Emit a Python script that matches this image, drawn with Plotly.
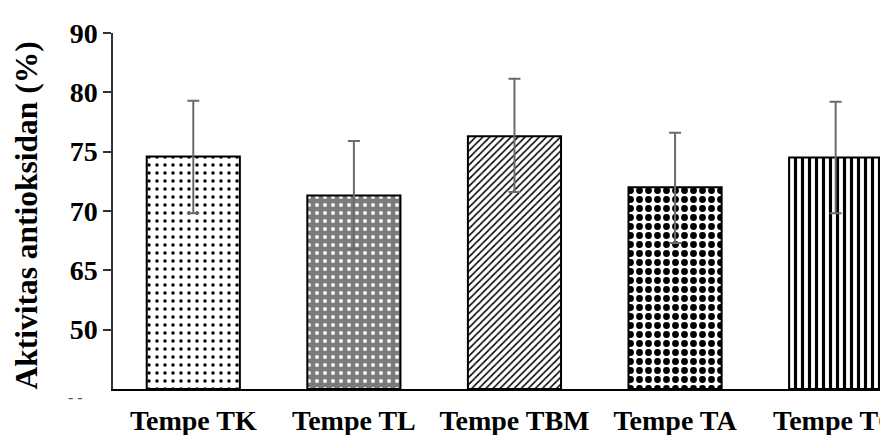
import numpy as np
import plotly.graph_objects as go

# ---- data ----
categories = ["Tempe TK", "Tempe TL", "Tempe TBM", "Tempe TA", "Tempe TC"]
activity = [74.6, 71.3, 76.3, 72.0, 74.5]          # antioxidant activity (%)
err_upper = [4.7, 4.6, 6.0, 4.6, 4.7]
err_lower = [4.8, 4.5, 4.7, 4.7, 4.7]
tick_values = [50, 65, 70, 75, 80, 90]                # labels on the (uneven) y axis
tick_labels = ["50", "65", "70", "75", "80", "90"]

# The original axis puts its labels at evenly spaced positions:
tick_pos = list(range(1, len(tick_values) + 1))


def to_axis(v):
    return np.interp(np.asarray(v, dtype=float), tick_values, tick_pos)


vals = np.asarray(activity)
ypos = to_axis(vals)
e_plus = to_axis(vals + np.asarray(err_upper)) - ypos
e_minus = ypos - to_axis(vals - np.asarray(err_lower))

patterns = [
    dict(shape=".", fgcolor="black", bgcolor="white", size=8, solidity=0.15),
    dict(shape=".", fgcolor="white", bgcolor="#7a7a7a", size=8, solidity=0.2),
    dict(shape="/", fgcolor="black", bgcolor="white", size=5, solidity=0.3),
    dict(shape=".", fgcolor="black", bgcolor="white", size=9, solidity=0.45),
    dict(shape="|", fgcolor="black", bgcolor="white", size=7, solidity=0.45),
]

fig = go.Figure()
for i, cat in enumerate(categories):
    fig.add_trace(go.Bar(
        x=[cat], y=[ypos[i]],
        marker=dict(color="white", line=dict(color="black", width=2),
                    pattern=dict(fillmode="replace", **patterns[i])),
        error_y=dict(type="data", symmetric=False, array=[e_plus[i]],
                     arrayminus=[e_minus[i]], color="#6b6b6b",
                     thickness=2, width=6),
        showlegend=False,
    ))

font_family = "Liberation Serif, Times New Roman, serif"

fig.update_layout(
    width=880, height=427,
    margin=dict(l=105, r=0, t=25, b=46, autoexpand=False),
    plot_bgcolor="white", paper_bgcolor="white",
    bargap=0.42,
    font=dict(family=font_family, color="black"),
    xaxis=dict(
        type="category", range=[-0.5, 4.326], automargin=False,
        showline=True, linecolor="black", linewidth=2,
        ticks="", ticklabelstandoff=5,
        tickfont=dict(size=28, family=font_family, color="black", weight="bold"),
        showgrid=False, zeroline=False,
    ),
    yaxis=dict(
        range=[0, 6], tickmode="array", tickvals=tick_pos, ticktext=tick_labels,
        automargin=False,
        showline=True, linecolor="#333333", linewidth=1.5,
        ticks="outside", ticklen=8, tickcolor="#333333", tickwidth=1.5,
        tickfont=dict(size=28, family=font_family, color="black", weight="bold"),
        showgrid=False, zeroline=False,
    ),
    annotations=[
        dict(text="Aktivitas antioksidan (%)", textangle=-90,
             xref="paper", yref="paper", x=-0.111, y=0.487,
             xanchor="center", yanchor="middle", showarrow=False,
             font=dict(size=31.5, family=font_family, color="black", weight="bold")),
        dict(text="- -", xref="paper", yref="paper", x=-0.048, y=-0.025,
             xanchor="center", yanchor="middle", showarrow=False,
             font=dict(size=16, family=font_family, color="#555555")),
    ],
)

fig.write_html("out.html")
